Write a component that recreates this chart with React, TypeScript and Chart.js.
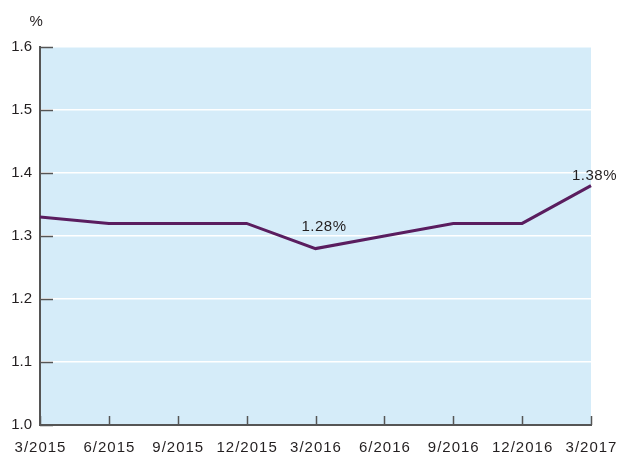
import React, { useEffect, useRef } from "react";
import { Chart, registerables } from "chart.js";

Chart.register(...registerables);

const categories = ["3/2015", "6/2015", "9/2015", "12/2015", "3/2016", "6/2016", "9/2016", "12/2016", "3/2017"];
const rates = [1.33, 1.32, 1.32, 1.32, 1.28, 1.3, 1.32, 1.32, 1.38];
const yTicks = [1.0, 1.1, 1.2, 1.3, 1.4, 1.5, 1.6];
const annotations = [
  { index: 4, text: "1.28%" },
  { index: 8, text: "1.38%" },
];

const FONT = "'Liberation Sans', Arial, Helvetica, sans-serif";
const TEXT = "#231f20";
const AXIS = "#555555";

const decorPlugin = {
  id: "decor",
  beforeDraw(chart: any) {
    const { ctx, chartArea } = chart;
    ctx.save();
    ctx.fillStyle = "#d5ecf9";
    ctx.fillRect(chartArea.left, chartArea.top, chartArea.right - chartArea.left, chartArea.bottom - chartArea.top);
    ctx.restore();
  },
  afterDraw(chart: any) {
    const { ctx, chartArea, scales } = chart;
    const x = scales.x;
    const y = scales.y;
    ctx.save();
    ctx.strokeStyle = AXIS;
    ctx.lineWidth = 1.5;
    // inward ticks
    x.ticks.forEach((_t: any, i: number) => {
      const px = Math.round(x.getPixelForTick(i)) + 0.5;
      ctx.beginPath();
      ctx.moveTo(px, chartArea.bottom);
      ctx.lineTo(px, chartArea.bottom - 9);
      ctx.stroke();
    });
    y.ticks.forEach((_t: any, i: number) => {
      const py = Math.round(y.getPixelForTick(i)) + 0.5;
      ctx.beginPath();
      ctx.moveTo(chartArea.left, py);
      ctx.lineTo(chartArea.left + 13, py);
      ctx.stroke();
    });
    ctx.fillStyle = TEXT;
    ctx.font = `15px ${FONT}`;
    // category labels
    (ctx as any).letterSpacing = "1px";
    ctx.textAlign = "center";
    ctx.textBaseline = "alphabetic";
    const labels: string[] = chart.data.labels;
    labels.forEach((lab, i) => {
      ctx.fillText(lab, x.getPixelForTick(i) + 0.5, chartArea.bottom + 27.3);
    });
    // unit label
    (ctx as any).letterSpacing = "0.5px";
    ctx.fillText("%", 36.5, 26);
    // value annotations
    const meta = chart.getDatasetMeta(0);
    ctx.textAlign = "left";
    annotations.forEach((a) => {
      const pt = meta.data[a.index];
      if (!pt) return;
      if (a.index === 8) {
        ctx.fillText(a.text, pt.x - 19, pt.y - 6);
      } else {
        ctx.fillText(a.text, pt.x - 14, pt.y - 18);
      }
    });
    ctx.restore();
  },
};

export default function App() {
  const ref = useRef<HTMLCanvasElement | null>(null);
  useEffect(() => {
    if (!ref.current) return;
    const chart = new Chart(ref.current, {
      type: "line",
      data: {
        labels: categories,
        datasets: [
          {
            data: rates,
            borderColor: "#5a1d5f",
            borderWidth: 3,
            pointRadius: 0,
            tension: 0,
            fill: false,
          },
        ],
      },
      options: {
        animation: false,
        responsive: false,
        maintainAspectRatio: false,
        layout: { padding: { top: 47, right: 26, left: 0, bottom: 0 } },
        plugins: {
          legend: { display: false },
          tooltip: { enabled: false },
        },
        scales: {
          x: {
            offset: false,
            grid: { display: false, drawTicks: false },
            border: { display: true, color: AXIS, width: 2 },
            ticks: { display: false, autoSkip: false, maxRotation: 0 },
            afterFit: (s: any) => {
              s.height = 27;
              s.paddingLeft = 0;
              s.paddingRight = 0;
            },
          },
          y: {
            min: 1.0,
            max: 1.6,
            afterBuildTicks: (s: any) => {
              s.ticks = yTicks.map((v) => ({ value: v }));
            },
            grid: { color: "#ffffff", lineWidth: 1.5, drawTicks: false },
            border: { display: true, color: AXIS, width: 2 },
            ticks: {
              color: TEXT,
              font: { size: 15, family: FONT },
              padding: 8,
              callback: (v: any) => Number(v).toFixed(1),
            },
            afterFit: (s: any) => {
              s.width = 40;
            },
          },
        },
      },
      plugins: [decorPlugin],
    });
    return () => chart.destroy();
  }, []);
  return (
    <div style={{ position: "fixed", left: 0, top: 0, width: 617, height: 452 }}>
      <canvas ref={ref} width={617} height={452} style={{ width: 617, height: 452 }} />
    </div>
  );
}
